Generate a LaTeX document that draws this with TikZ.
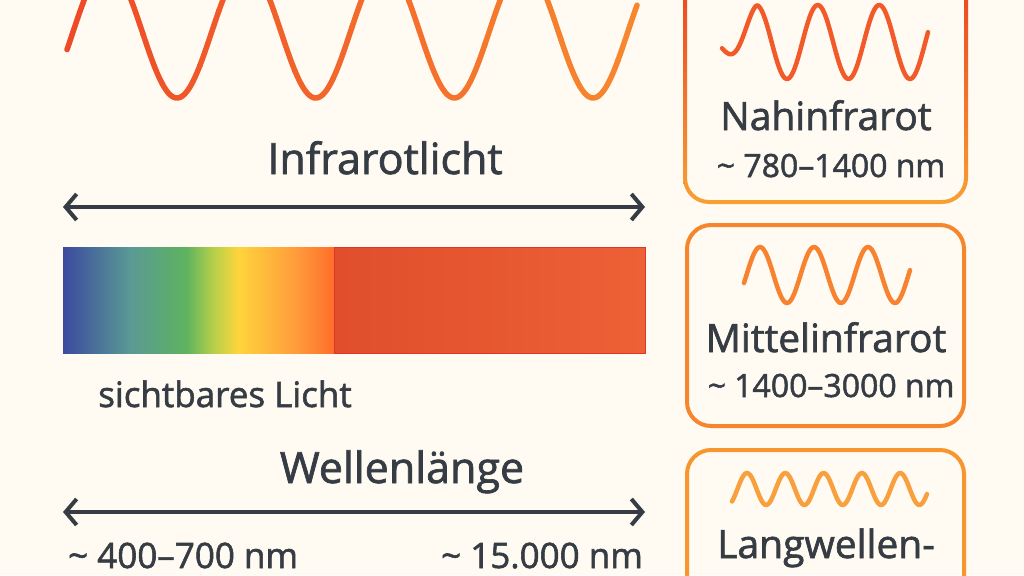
\documentclass[tikz,border=0pt]{standalone}
\usepackage{fontspec}
\setmainfont{Open Sans}[FakeBold=1.6]
\usepackage{xcolor}
\usetikzlibrary{arrows.meta, positioning}
\definecolor{cPaper}{HTML}{FFFAF2}
\definecolor{cInk}{HTML}{363C43}
\definecolor{cRed}{HTML}{EE4A27}
\definecolor{cOrange}{HTML}{F7872F}
\definecolor{cAmber}{HTML}{F8A03E}
\definecolor{cNahWave}{HTML}{F25A2A}
\definecolor{cMidWave}{HTML}{F7822F}
\definecolor{cMidLine}{HTML}{F6862D}
\definecolor{cLangLine}{HTML}{F7962F}
\definecolor{cNahTop}{HTML}{E93A20}
\definecolor{cNahBottom}{HTML}{F8A033}
\definecolor{cIrLeft}{HTML}{E04E2B}
\definecolor{cIrRight}{HTML}{ED6137}
\definecolor{cBarEdge}{HTML}{E2352A}
% spectrum stops
\definecolor{sBlue}{HTML}{3C4A9E}
\definecolor{sTeal}{HTML}{5A9A94}
\definecolor{sGreen}{HTML}{5DB35F}
\definecolor{sLime}{HTML}{B5CF4A}
\definecolor{sYellow}{HTML}{FFD53C}
\definecolor{sAmber}{HTML}{FF9A3B}
\definecolor{sFlame}{HTML}{FF6E2A}
\pgfdeclarehorizontalshading{spectrum}{100bp}{color(0bp)=(sBlue); color(25bp)=(sBlue); color(37.5bp)=(sTeal); color(47.7bp)=(sGreen); color(52.7bp)=(sLime); color(57.3bp)=(sYellow); color(68.2bp)=(sAmber); color(75bp)=(sFlame); color(100bp)=(sFlame)}
\tikzset{
	bigtitle/.style ={font=\fontsize{43}{46}\selectfont, text=cInk, inner sep=0pt},
	boxtitle/.style ={font=\fontsize{39}{42}\selectfont, text=cInk, inner sep=0pt},
	nmrange/.style  ={font=\fontsize{32}{36}\selectfont, text=cInk, inner sep=0pt},
	axislabel/.style={font=\fontsize{35}{38}\selectfont, text=cInk, inner sep=0pt},
	axisarrow/.style={{Straight Barb[length=11pt, width=26pt]}-{Straight Barb[length=11pt, width=26pt]}, line width=4pt, draw=cInk},
	irbox/.style    ={rectangle, rounded corners=24pt, line width=4pt, minimum width=277pt, inner sep=0pt},
	irwave/.style   ={line width=5.5pt, line cap=round, line join=round},
	% small wave inside a box
	boxwave/.style  ={line width=4.5pt, line cap=round, line join=round},
}

\begin{document}
\begin{tikzpicture}[x=1pt, y=-1pt]
	\fill[cPaper] (0,0) rectangle (1024,575);
	\useasboundingbox (0,0) rectangle (1024,575);
	\clip (0,0) rectangle (1024,575);

	% big wave, red to orange
	\foreach \i in {0,...,29} {
		\pgfmathsetmacro{\xa}{67+19*\i}
		\pgfmathsetmacro{\xb}{\xa+19}
		\pgfmathsetmacro{\mix}{100-100*\i/29}
		\draw[irwave, draw=cRed!\mix!cOrange] plot[domain=\xa:\xb, samples=10] (\x,{32+66*cos((\x-177)/138.7*360)});
	}

	\node[bigtitle, anchor=base] (irlabel) at (385,174) {Infrarotlicht};
	\coordinate (irL) at (63,207);
	\coordinate (irR) at (645,207);
	\draw[axisarrow] (irL) -- (irR);

	% spectrum bar
	\shade[shading=spectrum] (63,247) rectangle (334,353);
	\shade[left color=cIrLeft, right color=cIrRight] (334,247) rectangle (645,353);
	\draw[cBarEdge, line width=0.8pt] (334,247) rectangle (645,353);
	\node[axislabel, anchor=base] (vislabel) at (225,407) {sichtbares Licht};

	\node[bigtitle, anchor=base] (wlabel) at (402,483) {Wellenlänge};
	\coordinate (wL) at (63,512);
	\coordinate (wR) at (645,512);
	\draw[axisarrow] (wL) -- (wR);
	\node[axislabel, anchor=base west] (wmin) at (68,568) {\textasciitilde\ 400–700 nm};
	\node[axislabel, anchor=base east] (wmax) at (643,568) {\textasciitilde\ 15.000 nm};

	% Nahinfrarot
	\node[irbox, minimum height=240pt] (nahbox) at (825.5,80) {};
	\shade[top color=cNahTop, bottom color=cNahBottom, even odd rule]
		[rounded corners=26pt] ([xshift=-2pt,yshift=-2pt]nahbox.south west) rectangle ([xshift=2pt,yshift=2pt]nahbox.north east)
		[rounded corners=22pt] ([xshift=2pt,yshift=2pt]nahbox.south west) rectangle ([xshift=-2pt,yshift=-2pt]nahbox.north east);
	\draw[boxwave, draw=cNahWave] plot[domain=722:928, samples=120] (\x,{42+(37-26*max(0,(757-\x)/30))*cos((\x-787)/61.5*360)});
	\node[boxtitle, anchor=base] (nahtitle) at (826,130) {Nahinfrarot};
	\node[nmrange, anchor=base] (nahrange) at (831,177) {\textasciitilde\ 780–1400 nm};

	% Mittelinfrarot
	\node[irbox, draw=cMidLine, minimum height=201pt] (midbox) at (825.5,325.5) {};
	\draw[boxwave, draw=cMidWave] plot[domain=744:910, samples=100] (\x,{275-28*cos((\x-760)/54*360)});
	\node[boxtitle, anchor=base] (midtitle) at (826,352) {Mittelinfrarot};
	\node[nmrange, anchor=base] (midrange) at (831,397) {\textasciitilde\ 1400–3000 nm};

	% Langwellen-
	\node[irbox, draw=cLangLine, minimum height=200pt] (langbox) at (825.5,550) {};
	\draw[boxwave, draw=cAmber] plot[domain=732:927, samples=120] (\x,{489-16*cos((\x-747)/38.3*360)});
	\node[boxtitle, anchor=base] (langtitle) at (826,558) {Langwellen-};
\end{tikzpicture}
\end{document}
